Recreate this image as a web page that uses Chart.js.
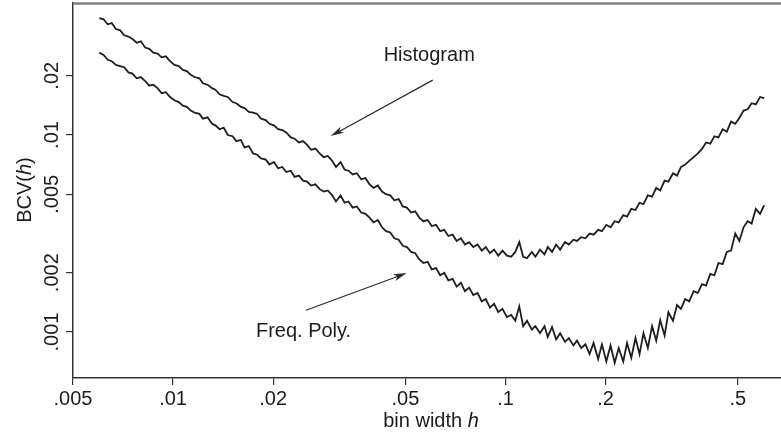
<!DOCTYPE html>
<html>
<head>
<meta charset="utf-8">
<script src="https://cdn.jsdelivr.net/npm/chart.js@4.4.1/dist/chart.umd.min.js"></script>
<style>
    body { margin: 0; background: #fff; }
    #wrap { width: 781px; height: 436px; position: relative; }
</style>
</head>
<body>
<div id="wrap"><canvas id="bcv-chart"></canvas></div>
<script>
// bin widths h (log grid, .006 to .6)
const binWidths = [
    0.006, 0.00618, 0.00636, 0.00654, 0.00673, 0.00693, 0.00713, 0.00734, 0.00755, 0.00777,
    0.008, 0.00824, 0.00848, 0.00872, 0.00898, 0.00924, 0.00951, 0.00979, 0.0101, 0.0104,
    0.0107, 0.011, 0.0113, 0.0116, 0.012, 0.0123, 0.0127, 0.0131, 0.0134, 0.0138,
    0.0142, 0.0146, 0.0151, 0.0155, 0.016, 0.0164, 0.0169, 0.0174, 0.0179, 0.0184,
    0.019, 0.0195, 0.0201, 0.0207, 0.0213, 0.0219, 0.0226, 0.0232, 0.0239, 0.0246,
    0.0253, 0.026, 0.0268, 0.0276, 0.0284, 0.0292, 0.0301, 0.0309, 0.0319, 0.0328,
    0.0337, 0.0347, 0.0357, 0.0368, 0.0379, 0.039, 0.0401, 0.0413, 0.0425, 0.0437,
    0.045, 0.0463, 0.0477, 0.0491, 0.0505, 0.052, 0.0535, 0.055, 0.0566, 0.0583,
    0.06, 0.0618, 0.0636, 0.0654, 0.0673, 0.0693, 0.0713, 0.0734, 0.0755, 0.0777,
    0.08, 0.0824, 0.0848, 0.0872, 0.0898, 0.0924, 0.0951, 0.0979, 0.101, 0.104,
    0.107, 0.11, 0.113, 0.116, 0.12, 0.123, 0.127, 0.131, 0.134, 0.138,
    0.142, 0.146, 0.151, 0.155, 0.16, 0.164, 0.169, 0.174, 0.179, 0.184,
    0.19, 0.195, 0.201, 0.207, 0.213, 0.219, 0.226, 0.232, 0.239, 0.246,
    0.253, 0.26, 0.268, 0.276, 0.284, 0.292, 0.301, 0.309, 0.319, 0.328,
    0.337, 0.347, 0.357, 0.368, 0.379, 0.39, 0.401, 0.413, 0.425, 0.437,
    0.45, 0.463, 0.477, 0.491, 0.505, 0.52, 0.535, 0.55, 0.566, 0.583,
    0.6,
];

const histogramBCV = [
    0.0392, 0.0387, 0.0365, 0.0370, 0.0345, 0.0340, 0.0321, 0.0316, 0.0307, 0.0294,
    0.0299, 0.0278, 0.0274, 0.0262, 0.0259, 0.0248, 0.0251, 0.0237, 0.0227, 0.0224,
    0.0214, 0.0211, 0.0202, 0.0197, 0.0194, 0.0183, 0.0180, 0.0173, 0.0170, 0.0161,
    0.0158, 0.0156, 0.0147, 0.0145, 0.0139, 0.0137, 0.0131, 0.0130, 0.0128, 0.0121,
    0.0119, 0.0114, 0.0112, 0.0107, 0.0106, 0.0103, 0.00972, 0.00958, 0.00917, 0.00931,
    0.00891, 0.00841, 0.00854, 0.00806, 0.00772, 0.00783, 0.00739, 0.00688, 0.00729, 0.00668,
    0.00659, 0.00631, 0.00640, 0.00596, 0.00604, 0.00562, 0.00539, 0.00554, 0.00516, 0.00501,
    0.00494, 0.00466, 0.00473, 0.00434, 0.00428, 0.00404, 0.00410, 0.00381, 0.00365, 0.00370,
    0.00345, 0.00350, 0.00325, 0.00330, 0.00307, 0.00312, 0.00290, 0.00299, 0.00278, 0.00286,
    0.00270, 0.00278, 0.00259, 0.00270, 0.00251, 0.00262, 0.00244, 0.00259, 0.00244, 0.00241,
    0.00255, 0.00286, 0.00241, 0.00237, 0.00255, 0.00241, 0.00262, 0.00248, 0.00270, 0.00255,
    0.00278, 0.00262, 0.00286, 0.00278, 0.00294, 0.00290, 0.00303, 0.00299, 0.00316, 0.00312,
    0.00330, 0.00325, 0.00350, 0.00340, 0.00365, 0.00360, 0.00392, 0.00385, 0.00422, 0.00416,
    0.00453, 0.00446, 0.00494, 0.00487, 0.00539, 0.00523, 0.00587, 0.00580, 0.00640, 0.00622,
    0.00688, 0.00708, 0.00739, 0.00772, 0.00806, 0.00850, 0.00917, 0.00904, 0.00986, 0.00972,
    0.0107, 0.0104, 0.0117, 0.0114, 0.0122, 0.0133, 0.0135, 0.0145, 0.0143, 0.0156,
    0.0154,
];

const freqPolyBCV = [
    0.0262, 0.0255, 0.0241, 0.0237, 0.0227, 0.0224, 0.0221, 0.0208, 0.0205, 0.0194,
    0.0197, 0.0188, 0.0178, 0.0180, 0.0173, 0.0163, 0.0165, 0.0156, 0.0150, 0.0147,
    0.0141, 0.0139, 0.0133, 0.0130, 0.0128, 0.0121, 0.0123, 0.0114, 0.0112, 0.0107,
    0.0109, 0.0100, 0.00986, 0.00931, 0.00944, 0.00866, 0.00879, 0.00806, 0.00794, 0.00761,
    0.00750, 0.00708, 0.00729, 0.00678, 0.00688, 0.00649, 0.00659, 0.00613, 0.00622, 0.00587,
    0.00580, 0.00554, 0.00562, 0.00531, 0.00516, 0.00523, 0.00494, 0.00460, 0.00494, 0.00453,
    0.00460, 0.00428, 0.00434, 0.00404, 0.00398, 0.00381, 0.00360, 0.00370, 0.00340, 0.00325,
    0.00320, 0.00299, 0.00294, 0.00274, 0.00270, 0.00255, 0.00251, 0.00234, 0.00224, 0.00227,
    0.00208, 0.00211, 0.00194, 0.00200, 0.00183, 0.00186, 0.00170, 0.00178, 0.00161, 0.00168,
    0.00154, 0.00158, 0.00143, 0.00147, 0.00133, 0.00139, 0.00126, 0.00131, 0.00119, 0.00122,
    0.00114, 0.00135, 0.00107, 0.00114, 0.00103, 0.00107, 0.000986, 0.00107, 0.000944, 0.00106,
    0.000917, 0.000986, 0.000891, 0.000931, 0.000854, 0.000904, 0.000829, 0.000866, 0.000772, 0.000879,
    0.000729, 0.000866, 0.000708, 0.000854, 0.000698, 0.000829, 0.000708, 0.000879, 0.000739, 0.000931,
    0.000772, 0.000986, 0.000829, 0.00107, 0.000904, 0.00115, 0.000958, 0.00126, 0.00114, 0.00137,
    0.00131, 0.00147, 0.00143, 0.00161, 0.00158, 0.00175, 0.00172, 0.00197, 0.00194, 0.00224,
    0.00221, 0.00255, 0.00259, 0.00316, 0.00290, 0.00340, 0.00365, 0.00355, 0.00422, 0.00398,
    0.00440,
];

const xTicks = [0.005, 0.01, 0.02, 0.05, 0.1, 0.2, 0.5];
const yTicks = [0.001, 0.002, 0.005, 0.01, 0.02];

// annotation anchors in data units: [h, BCV]
const histText = [0.043, 0.0252];
const histArrow = [[0.0604, 0.019], [0.0298, 0.00988]];
const freqText = [0.01775, 0.00101];
const freqArrow = [[0.0251, 0.00129], [0.0504, 0.00199]];

const FONT = '"Liberation Sans", Arial, Helvetica, sans-serif';
const INK = "#1c1c1c";

function tickLabel(v) {
    return String(v).replace(/^0/, "");
}

function toPoints(values) {
    return values.map((v, i) => ({ x: binWidths[i], y: v }));
}

function drawArrow(ctx, x1, y1, x2, y2) {
    const angle = Math.atan2(y2 - y1, x2 - x1);
    const len = 13;
    const half = 3.5;
    ctx.beginPath();
    ctx.moveTo(x1, y1);
    ctx.lineTo(x2 - Math.cos(angle) * 6, y2 - Math.sin(angle) * 6);
    ctx.stroke();
    ctx.beginPath();
    ctx.moveTo(x2, y2);
    ctx.lineTo(
        x2 - len * Math.cos(angle) + half * Math.sin(angle),
        y2 - len * Math.sin(angle) - half * Math.cos(angle),
    );
    ctx.lineTo(
        x2 - len * 0.75 * Math.cos(angle),
        y2 - len * 0.75 * Math.sin(angle),
    );
    ctx.lineTo(
        x2 - len * Math.cos(angle) - half * Math.sin(angle),
        y2 - len * Math.sin(angle) + half * Math.cos(angle),
    );
    ctx.closePath();
    ctx.fill();
}

// text with an italic part, drawn left to right from x
function drawMixed(ctx, parts, x, y) {
    parts.forEach((part) => {
        ctx.font = (part.italic ? "italic " : "") + "20px " + FONT;
        ctx.fillText(part.text, x, y);
        x += ctx.measureText(part.text).width;
    });
}

function mixedWidth(ctx, parts) {
    let w = 0;
    parts.forEach((part) => {
        ctx.font = (part.italic ? "italic " : "") + "20px " + FONT;
        w += ctx.measureText(part.text).width;
    });
    return w;
}

const decorations = {
    id: "decorations",
    afterDraw(chart) {
        const ctx = chart.ctx;
        const xs = chart.scales.x;
        const ys = chart.scales.y;
        const area = chart.chartArea;
        ctx.save();

        // top frame line
        ctx.strokeStyle = "#808080";
        ctx.lineWidth = 2.5;
        ctx.beginPath();
        ctx.moveTo(area.left, 3.5);
        ctx.lineTo(chart.width, 3.5);
        ctx.stroke();

        ctx.fillStyle = INK;
        ctx.textBaseline = "middle";

        // y tick labels, rotated
        ctx.font = "20px " + FONT;
        ctx.textAlign = "center";
        yTicks.forEach((v) => {
            ctx.save();
            ctx.translate(52, ys.getPixelForValue(v));
            ctx.rotate(-Math.PI / 2);
            ctx.fillText(tickLabel(v), 0, 0);
            ctx.restore();
        });

        // axis titles
        ctx.textAlign = "left";
        const yTitle = [
            { text: "BCV(" },
            { text: "h", italic: true },
            { text: ")" },
        ];
        ctx.save();
        ctx.translate(25, 190);
        ctx.rotate(-Math.PI / 2);
        drawMixed(ctx, yTitle, -mixedWidth(ctx, yTitle) / 2, 0);
        ctx.restore();

        const xTitle = [{ text: "bin width " }, { text: "h", italic: true }];
        drawMixed(ctx, xTitle, 431 - mixedWidth(ctx, xTitle) / 2, 421);

        // annotations
        ctx.font = "20px " + FONT;
        ctx.fillText(
            "Histogram",
            xs.getPixelForValue(histText[0]),
            ys.getPixelForValue(histText[1]),
        );
        ctx.fillText(
            "Freq. Poly.",
            xs.getPixelForValue(freqText[0]),
            ys.getPixelForValue(freqText[1]),
        );

        ctx.strokeStyle = "#2a2a2a";
        ctx.fillStyle = "#2a2a2a";
        ctx.lineWidth = 1.2;
        [histArrow, freqArrow].forEach((arrow) => {
            drawArrow(
                ctx,
                xs.getPixelForValue(arrow[0][0]),
                ys.getPixelForValue(arrow[0][1]),
                xs.getPixelForValue(arrow[1][0]),
                ys.getPixelForValue(arrow[1][1]),
            );
        });
        ctx.restore();
    },
};

const lineStyle = {
    borderColor: "#1e1e1e",
    borderWidth: 1.8,
    pointRadius: 0,
    tension: 0,
    fill: false,
};

const config = {
    type: "line",
    data: {
        datasets: [
            { label: "Histogram", data: toPoints(histogramBCV), ...lineStyle },
            { label: "Freq. Poly.", data: toPoints(freqPolyBCV), ...lineStyle },
        ],
    },
    options: {
        responsive: true,
        maintainAspectRatio: false,
        animation: false,
        devicePixelRatio: 1,
        layout: { padding: { top: 3, right: 0, left: 0, bottom: 0 } },
        plugins: {
            legend: { display: false },
            tooltip: { enabled: false },
        },
        scales: {
            x: {
                type: "logarithmic",
                min: 0.005,
                max: 0.674,
                afterBuildTicks: (scale) => {
                    scale.ticks = xTicks.map((v) => ({ value: v }));
                },
                afterFit: (scale) => {
                    scale.height = 58;
                },
                ticks: {
                    callback: (v) => tickLabel(v),
                    autoSkip: false,
                    maxRotation: 0,
                    padding: 2,
                    color: INK,
                    font: { family: FONT, size: 20 },
                },
                grid: {
                    drawOnChartArea: false,
                    tickLength: 7,
                    color: "#333",
                    lineWidth: 1.2,
                },
                border: { color: "#333", width: 1.5 },
            },
            y: {
                type: "logarithmic",
                min: 0.000584,
                max: 0.0468,
                afterBuildTicks: (scale) => {
                    scale.ticks = yTicks.map((v) => ({ value: v }));
                },
                afterFit: (scale) => {
                    scale.width = 73;
                },
                ticks: { display: false },
                grid: {
                    drawOnChartArea: false,
                    tickLength: 7,
                    color: "#333",
                    lineWidth: 1.2,
                },
                border: { color: "#333", width: 1.5 },
            },
        },
    },
    plugins: [decorations],
};

new Chart(document.getElementById("bcv-chart"), config);
</script>
</body>
</html>
